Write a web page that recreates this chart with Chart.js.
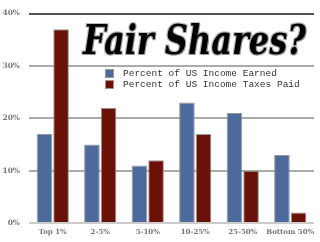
<!DOCTYPE html>
<html>
<head>
<meta charset="utf-8">
<script src="https://cdn.jsdelivr.net/npm/chart.js@4"></script>
<style>
  body { margin: 0; background: #fff; }
  #wrap { position: relative; width: 320px; height: 242px; }
  #title {
    position: absolute; left: 83px; top: 19px;
    font-family: "DejaVu Serif", serif; font-weight: bold; font-style: italic;
    font-size: 32px; line-height: 1; color: #000;
    transform: scale(1, 1.3); transform-origin: top left;
    text-shadow: 1px 1px 0 #999, -1px -1px 0 #bbb, 1px -1px 0 #bbb, -1px 1px 0 #bbb;
    white-space: nowrap;
  }
  #legend {
    position: absolute; left: 105px; top: 68px;
    font-family: "Liberation Mono", monospace; font-size: 9.5px; color: #333;
    line-height: 11px;
  }
  #legend .row { display: flex; align-items: center; white-space: nowrap; }
  #legend .box { width: 7px; height: 7px; border: 1px solid #999; margin-right: 9px; }
</style>
</head>
<body>
<div id="wrap">
  <canvas id="chart" width="320" height="242"></canvas>
  <div id="title">Fair Shares?</div>
  <div id="legend"></div>
</div>
<script>
const categories = ['Top 1%', '2-5%', '5-10%', '10-25%', '25-50%', 'Bottom 50%'];
const incomeEarned = [17, 15, 11, 23, 21, 13];
const taxesPaid = [37, 22, 12, 17, 10, 2];
const yTicks = [0, 10, 20, 30, 40];
const seriesNames = ['Percent of US Income Earned', 'Percent of US Income Taxes Paid'];
const seriesColors = ['#4d6a9c', '#6b1208'];

document.addEventListener('DOMContentLoaded', () => {
    const ctx = document.getElementById('chart').getContext('2d');

    new Chart(ctx, {
        type: 'bar',
        data: {
            labels: categories,
            datasets: [
                { label: seriesNames[0], data: incomeEarned, backgroundColor: seriesColors[0] },
                { label: seriesNames[1], data: taxesPaid, backgroundColor: seriesColors[1] }
            ]
        },
        options: {
            responsive: false,
            animation: false,
            layout: { padding: { top: 3, right: 6, left: 0, bottom: 0 } },
            datasets: {
                bar: {
                    categoryPercentage: 0.7,
                    barPercentage: 0.94,
                    borderColor: '#999',
                    borderWidth: 1
                }
            },
            plugins: { legend: { display: false }, tooltip: { enabled: false } },
            scales: {
                x: {
                    grid: { display: false, drawTicks: false },
                    border: { display: false },
                    ticks: {
                        color: '#777', padding: 5,
                        maxRotation: 0, minRotation: 0, autoSkip: false,
                        font: { family: 'DejaVu Serif', size: 7, weight: 'bold' }
                    },
                    afterFit: (scale) => { scale.height = 19; }
                },
                y: {
                    min: 0, max: 40,
                    afterBuildTicks: (scale) => { scale.ticks = yTicks.map(v => ({ value: v })); },
                    border: { display: false },
                    grid: {
                        drawTicks: false,
                        lineWidth: 2,
                        color: (c) => c.tick && c.tick.value === 40 ? '#555' : (c.tick && c.tick.value === 0 ? '#ccc' : '#aaa')
                    },
                    ticks: {
                        color: '#777', padding: 9,
                        font: { family: 'DejaVu Serif', size: 7.5, weight: 'bold' },
                        callback: (v) => v + '%'
                    },
                    afterFit: (scale) => { scale.width = 29; }
                }
            }
        }
    });

    // legend drawn as html so it can sit inside the plot
    const legend = document.getElementById('legend');
    seriesNames.forEach((name, i) => {
        const row = document.createElement('div');
        row.className = 'row';
        const box = document.createElement('span');
        box.className = 'box';
        box.style.background = seriesColors[i];
        row.appendChild(box);
        row.appendChild(document.createTextNode(name));
        legend.appendChild(row);
    });
});
</script>
</body>
</html>
